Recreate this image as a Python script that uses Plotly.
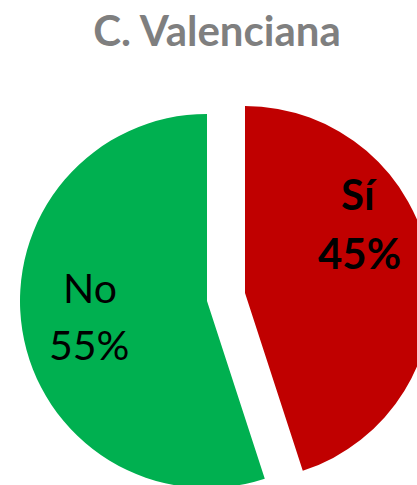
import plotly.graph_objects as go

# ---- data ----
title_text = "C. Valenciana"
labels = ["Sí", "No"]
values = [45, 55]
colors = ["#C00000", "#00B050"]
label_bold = [True, False]

# ---- canvas (slightly larger than window so the pie is clipped like the reference) ----
W, H = 440, 495

def px_x(px):
    return px / W

def px_y(py):
    return 1 - py / H

total = sum(values)
percents = [f"{round(v / total * 100)}%" for v in values]

fig = go.Figure()

# pie geometry (pixel centres/radii), the pulled-out "Sí" slice has its own centre
centres = {"Sí": (245, 293), "No": (207, 301)}
R = 187

for i, lab in enumerate(labels):
    cx, cy = centres[lab]
    slice_colors = [c if j == i else "rgba(0,0,0,0)" for j, c in enumerate(colors)]
    fig.add_trace(go.Pie(
        labels=labels,
        values=values,
        sort=False,
        direction="clockwise",
        rotation=0,
        marker=dict(colors=slice_colors, line=dict(width=0)),
        textinfo="none",
        hoverinfo="label+percent",
        showlegend=False,
        domain=dict(x=[px_x(cx - R), px_x(cx + R)], y=[px_y(cy + R), px_y(cy - R)]),
    ))

# label positions (pixel)
label_pos = {"Sí": ((359, 194), (359, 253)), "No": ((90, 287), (89, 344))}
for lab, pct, bold in zip(labels, percents, label_bold):
    (lx, ly), (qx, qy) = label_pos[lab]
    for txt, (x, y) in ((lab, (lx, ly)), (pct, (qx, qy))):
        fig.add_annotation(
            x=px_x(x), y=px_y(y), xref="paper", yref="paper",
            text=f"<b>{txt}</b>" if bold else txt,
            showarrow=False, xanchor="center", yanchor="middle",
            font=dict(family="Lato", size=42 if bold else 41, color="#000000"),
        )

fig.update_layout(
    width=W, height=H,
    margin=dict(l=0, r=0, t=0, b=0),
    paper_bgcolor="white",
    plot_bgcolor="white",
    title=dict(
        text=f"<b>{title_text}</b>",
        x=px_x(217), xanchor="center",
        y=1 - 31 / H, yanchor="middle", yref="container",
        font=dict(family="Lato", size=42, color="#7F7F7F"),
    ),
)

fig.write_html(
    "out.html",
    config={"displayModeBar": False},
    post_script=(
        "document.body.style.margin='0';"
        "document.body.style.overflow='hidden';"
        "document.documentElement.style.overflow='hidden';"
    ),
)
